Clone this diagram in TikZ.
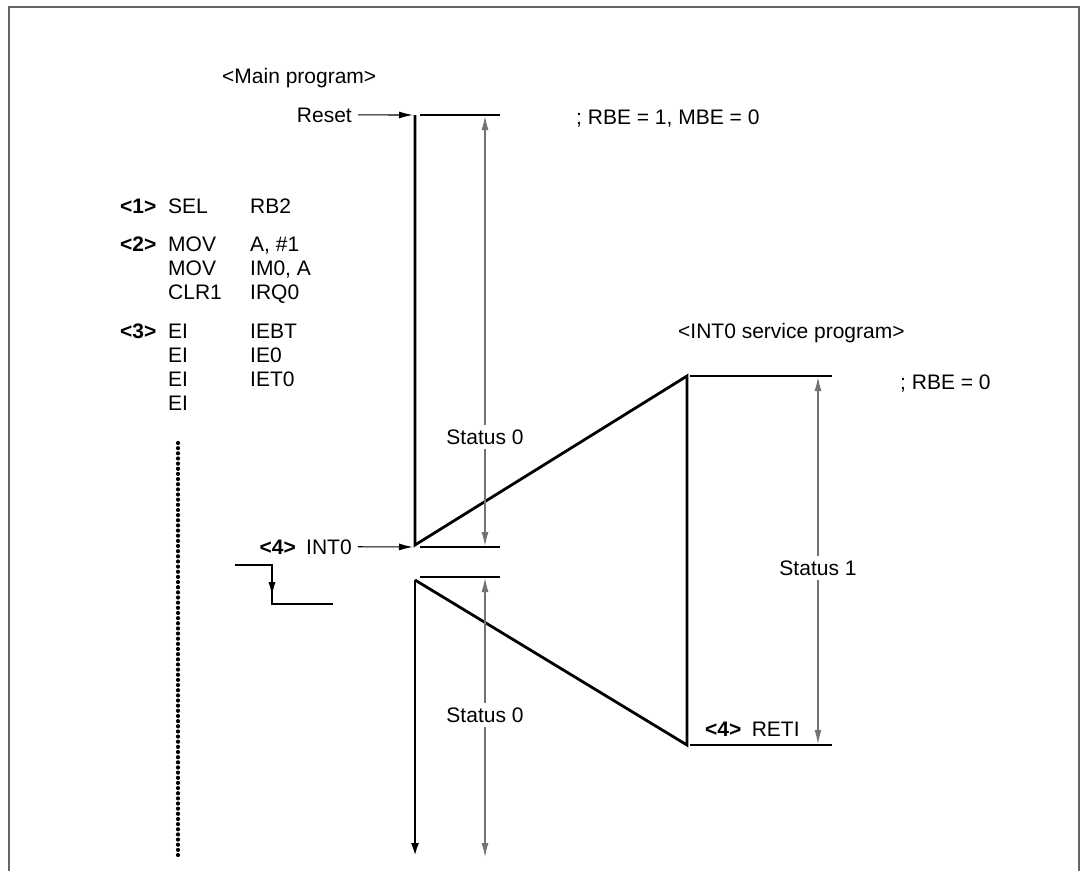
\documentclass[tikz,border=0pt]{standalone}
\usepackage{fontspec}
\setmainfont{Liberation Sans}
\usetikzlibrary{arrows.meta,positioning,calc}

\begin{document}
\begin{tikzpicture}[x=1pt, y=-1pt,
  txt/.style={font=\fontsize{21}{25}\selectfont, inner sep=0pt, anchor=base west},
  tag/.style={txt, font=\fontsize{21}{25}\selectfont\bfseries},
  flow/.style={line width=2.8pt},
  thin/.style={line width=1.1pt},
  arrow/.style={-{Latex[length=14pt,width=7pt]}, line width=1.1pt},
  dim/.style={-{Latex[length=14pt,width=7pt]}, line width=1.1pt, color=black!55},
  status/.style={font=\fontsize{21}{25}\selectfont, fill=white, inner sep=4pt}
]
\useasboundingbox (0,0) rectangle (1082,871);
\draw[line width=1.5pt, black!60] (9,871) -- (9,7) -- (1079,7) -- (1079,871);

% headings
\node[txt] (mainhd) at (222,83) {<Main program>};
\node[txt] (svhd) at (678,338) {<INT0 service program>};
\node[txt] (rbe1) at (576,124) {; RBE = 1, MBE = 0};
\node[txt] (rbe0) at (900,389) {; RBE = 0};

% program listing
\node[tag] (s1) at (120,213) {<1>};
\node[txt] (op1) at (168,213) {SEL};
\node[txt] at (250,213) {RB2};
\node[tag] (s2) at (120,251) {<2>};
\node[txt] (op2) at (168,251) {MOV};
\node[txt] at (250,251) {A, \#1};
\node[txt] (op3) at (168,275) {MOV};
\node[txt] at (250,275) {IM0, A};
\node[txt] (op4) at (168,299) {CLR1};
\node[txt] at (250,299) {IRQ0};
\node[tag] (s3) at (120,338) {<3>};
\node[txt] (op5) at (168,338) {EI};
\node[txt] at (250,338) {IEBT};
\node[txt] (op6) at (168,362) {EI};
\node[txt] at (250,362) {IE0};
\node[txt] (op7) at (168,386) {EI};
\node[txt] at (250,386) {IET0};
\node[txt] (op8) at (168,410) {EI};
\coordinate (dots1) at (178,443);
\coordinate (dots2) at (178,855);
\draw[line width=4.2pt, line cap=round, dash pattern=on 0pt off 5.15pt] (dots1) -- (dots2);

% main flow
\coordinate (rtop) at (415,115);
\coordinate (int) at (415,545);
\coordinate (ret) at (415,580);
\coordinate (mainend) at (415,857);
\coordinate (svtop) at (687,376);
\coordinate (svbot) at (687,745);

\node[txt, anchor=base east] (reset) at (352,122) {Reset};
\draw[arrow] ($(reset.east)+(6,0)$) -- ($(rtop)+(-2,0)$);
\node[tag, anchor=base east] (s4) at (296,554) {<4>};
\node[txt] (int0) at (306,554) {INT0};
\draw[arrow] ($(int0.east)+(6,0)$) -- ($(int)+(-2,2)$);

\draw[flow] (rtop) -- (int) -- (svtop) -- (svbot) -- (ret);
\draw[flow, -{Latex[length=14pt,width=8pt]}] (ret) -- (mainend);

% interrupt request edge
\draw[flow] (235,565) -- (272,565) -- (272,604) -- (333,604);
\draw[arrow, line width=1.5pt] (272,570) -- (272,596);

% extension lines
\draw[thin] (420,115) coordinate (e1) -- (500,115);
\draw[thin] (420,547) coordinate (e2) -- (500,547);
\draw[thin] (420,577) coordinate (e3) -- (500,577);
\draw[thin] (690,376) coordinate (e4) -- (832,376);
\draw[thin] (690,745) coordinate (e5) -- (832,745);

% status spans
\node[status] (st0a) at (485,437) {Status 0};
\draw[dim] (st0a) -- (485,116);
\draw[dim] (st0a) -- (485,546);
\node[status] (st0b) at (485,715) {Status 0};
\draw[dim] (st0b) -- (485,578);
\draw[dim] (st0b) -- (485,857);
\node[status] (st1) at (818,568) {Status 1};
\draw[dim] (st1) -- (818,377);
\draw[dim] (st1) -- (818,744);

\node[tag] (s5) at (705,736) {<4>};
\node[txt, right=10pt of s5.base east, anchor=base west] (reti) {RETI};
\end{tikzpicture}
\end{document}
